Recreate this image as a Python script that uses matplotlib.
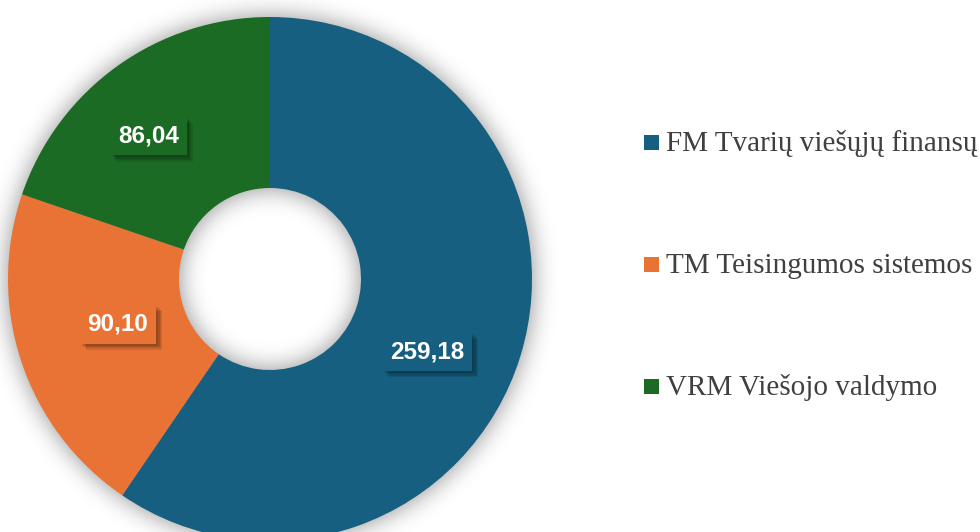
import numpy as np
import matplotlib
matplotlib.use('Agg')
import matplotlib.pyplot as plt
import matplotlib.patheffects as pe
from matplotlib.patches import Rectangle

# Programų lėšos (mln. Eur)
categories = ['FM Tvarių viešųjų finansų', 'TM Teisingumos sistemos', 'VRM Viešojo valdymo']
values = [259.18, 90.10, 86.04]
value_labels = ['259,18', '90,10', '86,04']
colors = ['#165F81', '#E97334', '#1C6B24']

W, H = 980, 532
cx, cy = 270, H - 279       # donut centre in pixel units (y up)
r_out, r_in = 262, 91

fig = plt.figure(figsize=(W / 100, H / 100), dpi=100)
ax = fig.add_axes([0, 0, 1, 1])

# soft shadow around the ring: blurred ring mask drawn underneath
xx, yy = np.meshgrid(np.arange(W) + 0.5, np.arange(H) + 0.5)
dist = np.hypot(xx - cx, (H - yy) - cy)
mask = ((dist <= r_out) & (dist >= r_in)).astype(float)
sig = 12
t = np.arange(-3 * sig, 3 * sig + 1)
k = np.exp(-t ** 2 / (2 * sig ** 2))
k /= k.sum()
pad = 3 * sig
m = np.pad(mask, pad)
m = np.apply_along_axis(lambda v: np.convolve(v, k, mode='same'), 1, m)
m = np.apply_along_axis(lambda v: np.convolve(v, k, mode='same'), 0, m)
blur = m[pad:-pad, pad:-pad]
shadow = np.zeros((H, W, 4))
shadow[..., 3] = blur * 0.44
ax.imshow(shadow, extent=(0, W, 0, H), origin='upper', zorder=0, interpolation='bilinear')

wedges, _ = ax.pie(values, colors=colors, startangle=90, counterclock=False,
                   center=(cx, cy), radius=r_out,
                   wedgeprops=dict(width=r_out - r_in, linewidth=0))
for w in wedges:
    w.set_zorder(2)

# soft drop shadow for the value boxes
box_shadow = [pe.SimplePatchShadow(offset=(d, -d), shadow_rgbFace='black', alpha=0.10)
              for d in (1.5, 2.5, 3.5, 4.5)] + [pe.Normal()]

# value boxes on each wedge
nudges = [(-13, 20), (17, -11), (-18, 2)]   # pixel tweaks (x, y down)
total = sum(values)
start = 90.0
for i, v in enumerate(values):
    span = v / total * 360
    mid = np.deg2rad(start - span / 2)
    start -= span
    rl = 0.68 * r_out
    x = cx + rl * np.cos(mid) + nudges[i][0]
    y = cy + rl * np.sin(mid) - nudges[i][1]
    txt = ax.text(x, y, value_labels[i], color='white', fontsize=17.5, fontweight='bold',
                  family='Liberation Sans', ha='center', va='center',
                  bbox=dict(boxstyle='square,pad=0.32', fc=colors[i], ec='none'),
                  zorder=4)
    txt.get_bbox_patch().set_path_effects(box_shadow)

# legend on the right
for i, cat in enumerate(categories):
    base = 151 + 122 * i
    ax.add_patch(Rectangle((644, H - base + 1.5), 15, 15, fc=colors[i], ec='none'))
    ax.text(666, H - base, cat, fontsize=21, family='Liberation Serif',
            color='#404040', ha='left', va='baseline')

ax.set_xlim(0, W)
ax.set_ylim(0, H)
ax.set_aspect('equal')
ax.axis('off')

fig.savefig('out.png', dpi=100)
